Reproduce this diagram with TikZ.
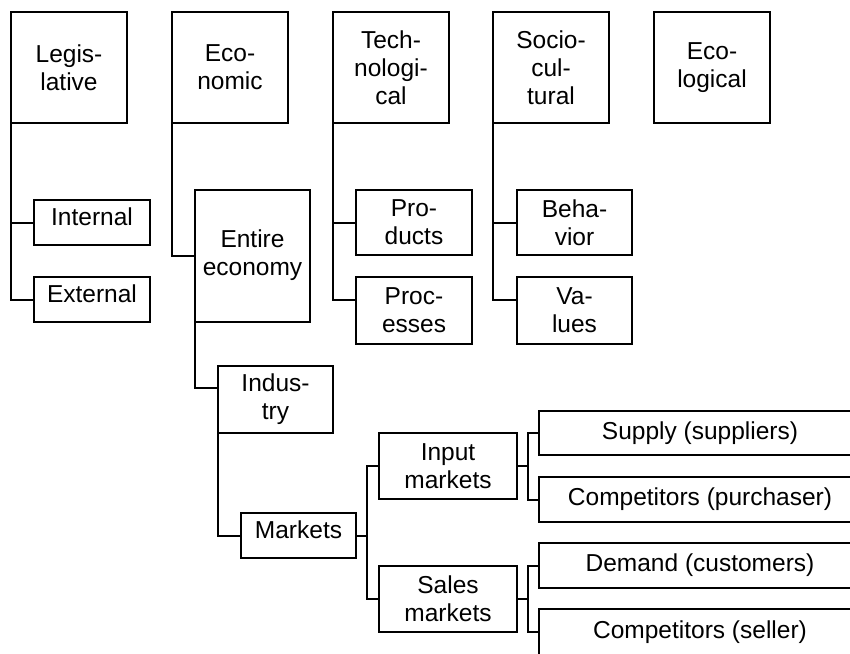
\documentclass[tikz,border=0pt]{standalone}
\usepackage{fontspec}
\setmainfont{Liberation Sans}
\usetikzlibrary{calc}
\begin{document}
\begin{tikzpicture}[x=1pt,y=-1pt,
  box/.style={draw, line width=2pt, outer sep=0pt, inner sep=2pt, align=center,
    font=\fontsize{24.5}{28}\selectfont},
  top/.style={box, minimum width=116pt, minimum height=111pt},
  sub/.style={box, minimum width=116pt, minimum height=66pt},
  one/.style={box, minimum width=116pt, minimum height=45pt, text depth=11pt},
  wide/.style={box, minimum width=322pt, minimum height=45pt},
  conn/.style={line width=2pt}]
\useasboundingbox (0,0) rectangle (850,653);
\fill[white] (0,0) rectangle (850,653);
\clip (0,0) rectangle (850,653);
% top row
\node[top] (leg) at (69,67.5) {Legis-\\lative};
\node[top] (eco) at (230,67.5) {Eco-\\nomic};
\node[top] (tec) at (391,67.5) {Tech-\\nologi-\\cal};
\node[top] (soc) at (551,67.5) {Socio-\\cul-\\tural};
\node[top] (ecl) at (712,67.5) {Eco-\\logical};
% legislative
\node[one] (int) at (92,222.5) {Internal};
\node[one] (ext) at (92,299.5) {External};
% economic
\node[box, minimum width=115pt, minimum height=132pt] (ent) at (252.5,255.5) {Entire\\economy};
\node[sub, minimum width=115pt, minimum height=67pt] (ind) at (275.5,399) {Indus-\\try};
\node[one, minimum width=115pt] (mkt) at (298.5,535.5) {Markets};
\node[sub, minimum width=138pt] (inp) at (448,466) {Input\\markets};
\node[sub, minimum width=138pt] (sal) at (448,599) {Sales\\markets};
\node[wide, minimum height=44pt] (sup) at (700,433) {Supply (suppliers)};
\node[wide] (cmp) at (700,499.5) {Competitors (purchaser)};
\node[wide] (dem) at (700,565.5) {Demand (customers)};
\node[wide, minimum height=46pt] (cms) at (700,632) {Competitors (seller)};
% technological
\node[sub, minimum height=65pt] (prod) at (414,222.5) {Pro-\\ducts};
\node[sub, minimum height=67pt] (proc) at (414,310.5) {Proc-\\esses};
% sociocultural
\node[sub, minimum width=115pt, minimum height=65pt] (beh) at (574.5,222.5) {Beha-\\vior};
\node[sub, minimum width=115pt, minimum height=67pt] (val) at (574.5,310.5) {Va-\\lues};
% connection points
\coordinate (procp) at ($(proc.north west)!0.35!(proc.south west)$);
\coordinate (valp) at ($(val.north west)!0.35!(val.south west)$);
\coordinate (indp) at ($(ind.north west)!0.33!(ind.south west)$);
\coordinate (mb) at ($(mkt.east)+(11,0)$);
\coordinate (ib) at ($(inp.east)+(11,0)$);
\coordinate (sb) at ($(sal.east)+(11,0)$);
% connectors
\draw[conn] (leg.south west) |- (int.west);
\draw[conn] (leg.south west) |- (ext.west);
\draw[conn] (eco.south west) |- (ent.west);
\draw[conn] (tec.south west) |- (prod.west);
\draw[conn] (tec.south west) |- (procp);
\draw[conn] (soc.south west) |- (beh.west);
\draw[conn] (soc.south west) |- (valp);
\draw[conn] (ent.south west) |- (indp);
\draw[conn] (ind.south west) |- (mkt.west);
\draw[conn] (mkt.east) -- (mb);
\draw[conn] (mb) |- (inp.west);
\draw[conn] (mb) |- (sal.west);
\draw[conn] (inp.east) -- (ib);
\draw[conn] (ib) |- (sup.west);
\draw[conn] (ib) |- (cmp.west);
\draw[conn] (sal.east) -- (sb);
\draw[conn] (sb) |- (dem.west);
\draw[conn] (sb) |- (cms.west);
\end{tikzpicture}
\end{document}
